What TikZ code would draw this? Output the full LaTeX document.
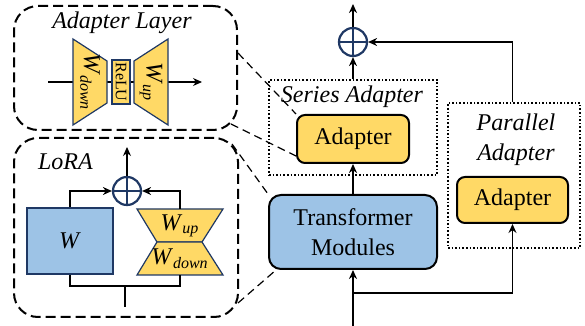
\documentclass[tikz,border=0pt]{standalone}
\usepackage{fontspec}
\setmainfont{Liberation Serif}
\usetikzlibrary{arrows.meta}

\definecolor{adyellow}{HTML}{FFD966}
\definecolor{tmblue}{HTML}{9DC3E6}
\definecolor{navy}{HTML}{1F3864}

\tikzset{
	arr/.style={-{Stealth[length=4.5pt,width=4pt]}, line width=0.9pt},
	thinarr/.style={-{Stealth[length=4.5pt,width=4pt]}, line width=0.6pt},
	plus/.style={circle, draw=navy, line width=1.1pt, minimum size=14pt, inner sep=0pt,
		path picture={\draw [navy, line width=1.1pt]
			(path picture bounding box.north) -- (path picture bounding box.south)
			(path picture bounding box.west) -- (path picture bounding box.east);}},
	abox/.style={draw, line width=1pt, fill=adyellow, rounded corners=4pt, inner sep=0pt},
	tbox/.style={draw, line width=1pt, fill=tmblue, rounded corners=6pt, inner sep=0pt, align=center},
	dashbox/.style={draw, line width=1pt, dash pattern=on 5pt off 2.5pt, rounded corners=12pt, inner sep=0pt},
	dotbox/.style={draw, line width=0.8pt, dash pattern=on 0.8pt off 1pt, inner sep=0pt},
	zoomline/.style={line width=0.6pt, dash pattern=on 4pt off 2.5pt},
	part/.style={draw=navy, line width=0.6pt, fill=adyellow},
}

\begin{document}
\begin{tikzpicture}[x=0.5pt, y=-0.5pt, font=\fontsize{12}{15}\selectfont]
\useasboundingbox (0,0) rectangle (585,326);

% main column
\node [plus] (sum) at (353,42) {};
\coordinate (out) at (353,4);
\node [dotbox, minimum width=84pt, minimum height=47.5pt] (sbox) at (353,127.5) {};
\node [] (stitle) at (352,97) {\textit{Series Adapter}};
\node [abox, minimum width=56pt, minimum height=24pt] (sa) at (353,139) {Adapter};
\node [tbox, minimum width=84pt, minimum height=37pt] (tm) at (353,232) {Transformer\\Modules};
\coordinate (in) at (353,326);
\coordinate (br) at (353,293);

\node [dotbox, minimum width=66pt, minimum height=72.5pt] (pbox) at (514,175.5) {};
\node [align=center] (ptitle) at (516,140) {\textit{Parallel}\\\textit{Adapter}};
\node [abox, minimum width=55.5pt, minimum height=23pt] (pa) at (512.5,200) {Adapter};

\draw [arr] (in) -- (tm.south);
\draw [thinarr] (br) -| (pa.south);
\draw [arr] (tm.north) -- (sa.south);
\draw [arr] (sbox.north) -- (sum.south);
\draw [arr] (sum.north) -- (out);
\draw [thinarr] (pa.north |- pbox.north) |- (sum.east);

% adapter layer
\node [dashbox, minimum width=111.5pt, minimum height=62pt] (al) at (125.5,68) {};
\node [] (altitle) at (122,23) {\textit{Adapter Layer}};
\coordinate (alin) at (48,82);
\coordinate (alout) at (202,82);
\draw [thinarr] (alin) -- (alout);
\draw [part] (73,39) -- (107,61) -- (107,103) -- (73,125) -- cycle;
\draw [part] (134,61) -- (168,39) -- (168,125) -- (134,103) -- cycle;
\node [rotate=-90] (wdown) at (90,82) {\textit{W}\textsubscript{\textit{down}}};
\node [rotate=-90] (wup) at (151,82) {\textit{W}\textsubscript{\textit{up}}};
\node [part, rotate=-90, minimum width=22pt, minimum height=9pt, inner sep=0pt, font=\fontsize{8}{9}\selectfont] (relu) at (121,82) {ReLU};

% lora
\node [dashbox, minimum width=112pt, minimum height=89.5pt] (lora) at (126,227.5) {};
\node [anchor=west] (loratitle) at (31,162) {\textit{LoRA}};
\node [plus] (lsum) at (127,191) {};
\coordinate (lout) at (127,147);
\node [draw=navy, line width=0.6pt, fill=tmblue, minimum width=43pt, minimum height=33pt] (w) at (70,241) {\textit{W}};
\draw [part] (137,209) -- (223,209) -- (202,242) -- (157,242) -- cycle;
\draw [part] (157,242) -- (202,242) -- (223,275) -- (137,275) -- cycle;
\node [] (lwup) at (180,226) {\textit{W}\textsubscript{\textit{up}}};
\node [] (lwdown) at (180,259) {\textit{W}\textsubscript{\textit{down}}};
\coordinate (hgtop) at (180,209);
\coordinate (hgbot) at (180,275);
\coordinate (lmid) at (125,286);
\coordinate (lin) at (125,307);

\draw [thinarr] (w.north) |- (lsum.west);
\draw [thinarr] (hgtop) |- (lsum.east);
\draw [thinarr] (lsum.north) -- (lout);
\draw [line width=0.6pt] (w.south) |- (lmid) -| (hgbot);
\draw [line width=0.6pt] (lin) -- (lmid);

% zoom lines
\draw [zoomline] ([yshift=7.5pt]al.east) -- (sa.north west);
\draw [zoomline] ([shift={(-3.5pt,3.5pt)}]al.south east) -- ([yshift=4pt]sa.south west);
\draw [zoomline] ([shift={(-3.5pt,-3.5pt)}]lora.north east) -- (tm.north west);
\draw [zoomline] ([shift={(-0.5pt,7.5pt)}]lora.south east) -- ([xshift=4pt]tm.south west);

\end{tikzpicture}
\end{document}
